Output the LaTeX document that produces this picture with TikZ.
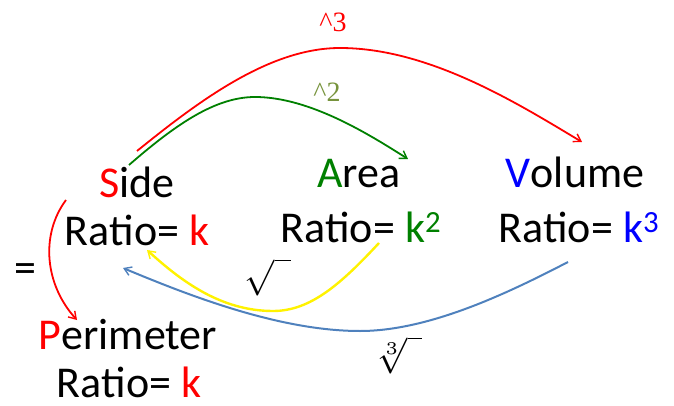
\documentclass[tikz,border=0pt]{standalone}
\usepackage{fontspec}
\usepackage{graphicx}
\setmainfont{Carlito}
\newfontfamily\serifrm{Liberation Serif}
\usetikzlibrary{arrows.meta}
\definecolor{linblue}{HTML}{4F81BD}
\definecolor{olive2}{HTML}{77933C}
\definecolor{grn}{HTML}{008000}
\begin{document}
\begin{tikzpicture}[x=1pt,y=-1pt,
  lbl/.style={anchor=base,inner sep=0pt,font=\fontsize{44}{48}\selectfont},
  conn/.style={line width=1.8pt,-{Straight Barb[length=7pt,width=9pt,line width=1.4pt]}},
  opl/.style={inner sep=0pt},
  radl/.style={inner sep=0pt,font=\fontsize{10}{12}\selectfont}]
\useasboundingbox (0,0) rectangle (674,406);
% labels
\node[lbl] (side) at (137,197) {{\color{red}S}ide};
\node[lbl] (sideR) at (137,245) {Ratio= {\color{red}k}};
\node[lbl] (area) at (359,188) {{\color{grn}A}rea};
\node[lbl] (areaR) at (361,242) {Ratio= {\color{grn}k\textsuperscript{2}}};
\node[lbl] (vol) at (575,188) {{\color{blue}V}olume};
\node[lbl] (volR) at (579,242) {Ratio= {\color{blue}k\textsuperscript{3}}};
\node[lbl] (per) at (128,349) {{\color{red}P}erimeter};
\node[lbl] (perR) at (129,397) {Ratio= {\color{red}k}};
\node[lbl] (eq) at (25,282) {=};
% operator labels
\node[opl,text=red,font=\serifrm\fontsize{28}{30}\selectfont] (cube) at (333,22) {\^{}3};
\node[opl,text=olive2,font=\serifrm\fontsize{28}{30}\selectfont] (sq) at (327,92) {\^{}2};
\node[radl] (rt) at (268,277) {\scalebox{3.6}{$\sqrt{\hspace{4.5pt}}$}};
\node[radl] (crt) at (399,355) {\scalebox{3.6}{$\sqrt[3]{\hspace{4pt}}$}};
% connector end points
\coordinate (a1) at (137,151); \coordinate (a1p) at (340,48); \coordinate (a1e) at (582,142);
\coordinate (a2) at (129,165); \coordinate (a2p) at (255,97); \coordinate (a2e) at (408,159);
\coordinate (a3) at (379,243); \coordinate (a3p) at (273,311); \coordinate (a3e) at (147,250);
\coordinate (a4) at (568,262); \coordinate (a4p) at (360,331); \coordinate (a4e) at (123,268);
\coordinate (a5) at (66,200); \coordinate (a5e) at (77,320);
% connectors
\draw[conn,red] (a1) .. controls (200,100) and (270,48) .. (a1p) .. controls (430,48) and (520,105) .. (a1e);
\draw[conn,grn] (a2) .. controls (175,125) and (215,97) .. (a2p) .. controls (310,97) and (370,135) .. (a2e);
\draw[conn,yellow,line width=2.4pt] (a3) .. controls (340,285) and (310,311) .. (a3p) .. controls (220,311) and (180,280) .. (a3e);
\draw[conn,linblue,line width=2pt] (a4) .. controls (510,292) and (430,331) .. (a4p) .. controls (280,331) and (190,296) .. (a4e);
\draw[conn,red] (a5) .. controls (40,235) and (45,285) .. (a5e);
\end{tikzpicture}
\end{document}
